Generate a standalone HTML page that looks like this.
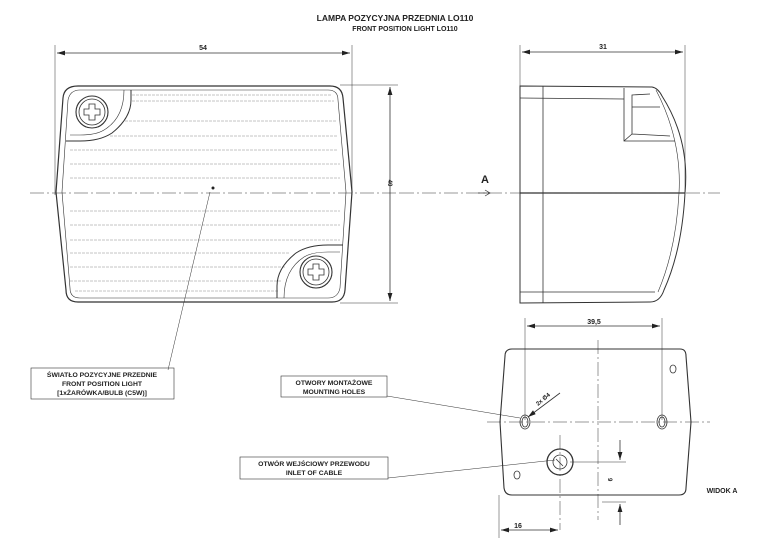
<!DOCTYPE html>
<html><head><meta charset="utf-8"><style>
html,body{margin:0;padding:0;background:#fff;width:765px;height:548px;overflow:hidden}
svg{display:block}
text{font-family:"Liberation Sans",sans-serif;fill:#222;font-weight:bold}
</style></head><body>
<svg width="765" height="548" viewBox="0 0 765 548" xmlns="http://www.w3.org/2000/svg">
<defs><marker id="a" viewBox="0 0 10 6" refX="10" refY="3" markerWidth="10" markerHeight="6" orient="auto-start-reverse"><path d="M0,0L10,3L0,6Z" fill="#222"/></marker></defs>
<text x="395" y="21" font-size="8.5" text-anchor="middle">LAMPA POZYCYJNA PRZEDNIA LO110</text>
<text x="405" y="31" font-size="7" text-anchor="middle">FRONT POSITION LIGHT LO110</text>

<g stroke="#333" fill="none" stroke-width="0.8">
<!-- front view -->
<line x1="55" y1="45" x2="55" y2="195" stroke-width="0.5"/>
<line x1="352" y1="45" x2="352" y2="195" stroke-width="0.5"/>
<line x1="57" y1="53" x2="350" y2="53" marker-start="url(#a)" marker-end="url(#a)"/>
<line x1="340" y1="85" x2="398" y2="85" stroke-width="0.5"/>
<line x1="340" y1="303" x2="398" y2="303" stroke-width="0.5"/>
<line x1="390" y1="87" x2="390" y2="301" marker-start="url(#a)" marker-end="url(#a)"/>
<path fill="none" d="M78,86 L330,86 Q342,86 343,98 L352,192 L345,290 Q344,302 332,302 L78,302 Q66,302 66,290 L56,192 L63,98 Q64,86 78,86Z" stroke-width="1.2"/>
<path fill="none" d="M80,90 L328,90 Q338,90 338,100 L346,192 L340,288 Q338,298 328,298 L80,298 Q70,298 70,288 L62,192 L68,100 Q70,90 80,90Z" stroke-width="0.6"/>
<g stroke="#888" stroke-width="0.5" stroke-dasharray="3 1">
<line x1="132" y1="95" x2="332" y2="95"/><line x1="132" y1="101" x2="334" y2="101"/><line x1="125" y1="121" x2="336" y2="121"/>
<line x1="110" y1="136" x2="338" y2="136"/><line x1="70" y1="150" x2="338" y2="150"/><line x1="70" y1="164" x2="340" y2="164"/>
<line x1="70" y1="178" x2="340" y2="178"/><line x1="70" y1="211" x2="340" y2="211"/><line x1="70" y1="225" x2="340" y2="225"/>
<line x1="70" y1="240" x2="340" y2="240"/><line x1="70" y1="253" x2="290" y2="253"/><line x1="70" y1="267" x2="285" y2="267"/>
<line x1="70" y1="281" x2="282" y2="281"/><line x1="75" y1="291" x2="278" y2="291"/>
</g>
<path fill="none" d="M66,141 L80,141 Q100,141 112,133 Q131,118 131,100 L131,90" stroke-width="1"/>
<path fill="none" d="M124,90 Q124,118 104,130 Q96,135 80,135 L70,135" stroke-width="0.6"/>
<circle cx="92" cy="112" r="16" stroke-width="1.1"/>
<circle cx="92" cy="112" r="13"/>
<path d="M89,104h6v5h5v6h-5v5h-6v-5h-5v-6h5z"/>
<path fill="none" d="M343,245 L328,245 Q308,245 296,253 Q277,268 277,286 L277,298" stroke-width="1"/>
<path fill="none" d="M284,298 Q284,270 304,257 Q312,252 328,252 L340,252" stroke-width="0.6"/>
<circle cx="316" cy="272" r="16" stroke-width="1.1"/>
<circle cx="316" cy="272" r="13"/>
<path d="M313,264h6v5h5v6h-5v5h-6v-5h-5v-6h5z"/>
<line x1="30" y1="193" x2="400" y2="193" stroke-width="0.5" stroke-dasharray="14 3 2 3"/>
<line x1="210" y1="192" x2="168" y2="370" stroke-width="0.5"/>
<!-- side view -->
<line x1="520" y1="45" x2="520" y2="86" stroke-width="0.5"/>
<line x1="685" y1="45" x2="685" y2="193" stroke-width="0.5"/>
<line x1="522" y1="52" x2="683" y2="52" marker-start="url(#a)" marker-end="url(#a)"/>
<path fill="none" d="M520,86 L652,87 Q658,88 662,96 Q690,140 685,193 Q682,250 664,290 Q660,302 650,302 L520,303 Z" stroke-width="1"/>
<path fill="none" d="M656,90 Q682,140 679,193 Q676,250 658,292" stroke-width="0.6"/>
<line x1="543" y1="86" x2="543" y2="303"/>
<line x1="520" y1="98" x2="624" y2="99"/>
<line x1="520" y1="292" x2="655" y2="292"/>
<path fill="none" d="M624,88 L624,141 L675,141 M624,141 L632,134 L670,136 M632,134 L632,95 L650,94 M632,107 L660,107"/>
<line x1="520" y1="193" x2="685" y2="193" stroke-width="1.2"/>
<line x1="400" y1="193" x2="720" y2="193" stroke-width="0.5" stroke-dasharray="14 3 2 3"/>
<path d="M478,193 L490,193 M485,190 L490,193 L485,196" stroke-width="0.7"/>
<!-- bottom view -->
<line x1="525" y1="318" x2="525" y2="420" stroke-width="0.5"/>
<line x1="662" y1="318" x2="662" y2="420" stroke-width="0.5"/>
<line x1="527" y1="326" x2="660" y2="326" marker-start="url(#a)" marker-end="url(#a)"/>
<path fill="none" d="M512,349 L680,349 Q686,349 686,356 L691,422 L686,488 Q686,495 679,495 L512,495 Q505,495 504,488 L500,422 L505,356 Q505,349 512,349Z" stroke-width="1.1"/>
<line x1="487" y1="422" x2="710" y2="422" stroke-width="0.5" stroke-dasharray="14 3 2 3"/>
<line x1="598" y1="340" x2="598" y2="520" stroke-width="0.5" stroke-dasharray="14 3 2 3"/>
<line x1="560" y1="435" x2="560" y2="530" stroke-width="0.5" stroke-dasharray="14 3 2 3"/>
<ellipse cx="525" cy="422" rx="5" ry="7"/><ellipse cx="525" cy="422" rx="3" ry="5"/>
<ellipse cx="662" cy="422" rx="5" ry="7"/><ellipse cx="662" cy="422" rx="3" ry="5"/>
<ellipse cx="673" cy="369" rx="3" ry="4"/>
<ellipse cx="517" cy="475" rx="3" ry="4"/>
<circle cx="560" cy="462" r="13" stroke-width="1.3"/>
<circle cx="560" cy="462" r="7"/>
<line x1="556" y1="459" x2="563" y2="466"/>
<line x1="528" y1="417" x2="560" y2="393" marker-start="url(#a)"/>
<line x1="570" y1="462" x2="626" y2="462" stroke-width="0.5"/>
<line x1="602" y1="502" x2="626" y2="502" stroke-width="0.5"/>
<line x1="620" y1="440" x2="620" y2="460" marker-end="url(#a)"/>
<line x1="620" y1="525" x2="620" y2="504" marker-end="url(#a)"/>
<line x1="499" y1="495" x2="499" y2="538" stroke-width="0.5"/>
<line x1="501" y1="530" x2="558" y2="530" marker-start="url(#a)" marker-end="url(#a)"/>
<!-- label boxes -->
<rect x="31" y="368" width="143" height="31" stroke-width="0.6"/>
<rect x="281" y="376" width="106" height="21" stroke-width="0.6"/>
<rect x="240" y="457" width="148" height="22" stroke-width="0.6"/>
<line x1="387" y1="396" x2="520" y2="418" stroke-width="0.5"/>
<line x1="388" y1="478" x2="555" y2="460" stroke-width="0.5"/>
</g>
<circle cx="213" cy="188" r="1.5" fill="#222"/>
<text x="203" y="50" font-size="7" text-anchor="middle">54</text>
<text x="603" y="49" font-size="7" text-anchor="middle">31</text>
<text x="388" y="183" font-size="6" transform="rotate(90 388 183)" text-anchor="middle">40</text>
<text x="485" y="183" font-size="11" font-weight="normal" text-anchor="middle">A</text>
<text x="594" y="324" font-size="7" text-anchor="middle">39,5</text>
<text x="538" y="406" font-size="6" transform="rotate(-40 538 406)">2x Ø4</text>
<text x="608" y="478" font-size="6" transform="rotate(90 608 478)">9</text>
<text x="518" y="528" font-size="7" text-anchor="middle">16</text>
<text x="722" y="493" font-size="7" text-anchor="middle">WIDOK A</text>
<g font-size="6.8" text-anchor="middle">
<text x="102" y="377">ŚWIATŁO POZYCYJNE PRZEDNIE</text>
<text x="102" y="386">FRONT POSITION LIGHT</text>
<text x="102" y="395">[1xŻARÓWKA/BULB (C5W)]</text>
<text x="334" y="385">OTWORY MONTAŻOWE</text>
<text x="334" y="394">MOUNTING HOLES</text>
<text x="314" y="466">OTWÓR WEJŚCIOWY PRZEWODU</text>
<text x="314" y="475">INLET OF CABLE</text>
</g>
</svg>
</body></html>
